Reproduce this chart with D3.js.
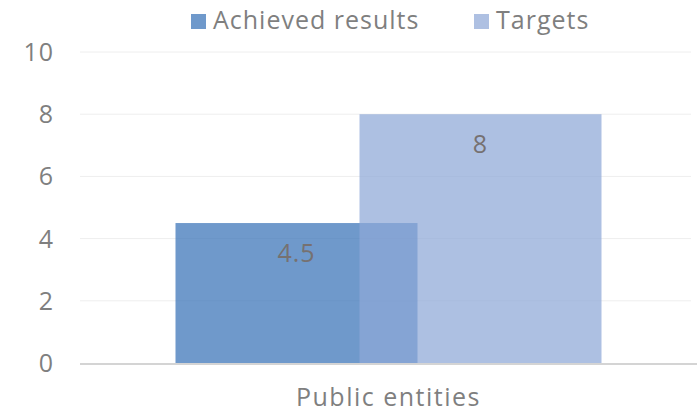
<!DOCTYPE html>
<html>
<head>
<meta charset="utf-8">
<script src="https://cdn.jsdelivr.net/npm/d3@7"></script>
<style>
  html, body { margin: 0; padding: 0; background: #fff; }
  svg { display: block; font-family: "Open Sans", sans-serif; }
</style>
</head>
<body>
<div id="chart"></div>
<script>
const categories = ["Public entities"];
const seriesNames = ["Achieved results", "Targets"];
const achieved = [4.5];
const targets = [8];
const yTicks = [0, 2, 4, 6, 8, 10];

(function() {
  const width = 697, height = 413;
  const margin = { top: 52, right: 0, bottom: 50, left: 80 };

  const svg = d3.select("#chart").append("svg")
    .attr("width", width).attr("height", height);

  const x = d3.scaleBand().domain(categories).range([margin.left, width - margin.right]);
  const y = d3.scaleLinear().domain([0, 10]).range([height - margin.bottom, margin.top]);

  // gridlines
  svg.append("g").selectAll("line")
    .data(yTicks.filter(d => d > 0))
    .join("line")
    .attr("x1", margin.left).attr("x2", width - 6)
    .attr("y1", d => y(d)).attr("y2", d => y(d))
    .attr("stroke", "#eeeeee").attr("stroke-width", 1);

  // y labels
  svg.append("g").selectAll("text")
    .data(yTicks)
    .join("text")
    .attr("x", 54).attr("y", d => y(d) + 9)
    .attr("text-anchor", "end")
    .attr("font-size", 25)
    .attr("letter-spacing", 1)
    .attr("fill", "#7f7f7f")
    .text(d => d);

  const barW = 242, overlap = 58;
  const series = [
    { name: seriesNames[0], values: achieved, fill: "#3f77b9", opacity: 0.75, off: -(barW - overlap / 2) },
    { name: seriesNames[1], values: targets, fill: "#8ea7d7", opacity: 0.72, off: -overlap / 2 }
  ];

  series.forEach(s => {
    svg.append("g").selectAll("rect")
      .data(categories)
      .join("rect")
      .attr("x", (c) => x(c) + x.bandwidth() / 2 + s.off)
      .attr("y", (c, i) => y(s.values[i]))
      .attr("width", barW)
      .attr("height", (c, i) => y(0) - y(s.values[i]))
      .attr("fill", s.fill)
      .attr("fill-opacity", s.opacity);
  });

  // baseline
  svg.append("line")
    .attr("x1", margin.left).attr("x2", width)
    .attr("y1", y(0) + 1).attr("y2", y(0) + 1)
    .attr("stroke", "#d4d4d4").attr("stroke-width", 2);

  // value labels
  series.forEach(s => {
    svg.append("g").selectAll("text")
      .data(categories)
      .join("text")
      .attr("x", c => x(c) + x.bandwidth() / 2 + s.off + barW / 2)
      .attr("y", (c, i) => y(s.values[i]) + 39)
      .attr("text-anchor", "middle")
      .attr("font-size", 25)
      .attr("letter-spacing", 1)
      .attr("fill", "#767171")
      .text((c, i) => s.values[i]);
  });

  // x labels
  svg.append("g").selectAll("text")
    .data(categories)
    .join("text")
    .attr("x", c => x(c) + x.bandwidth() / 2)
    .attr("y", 406)
    .attr("text-anchor", "middle")
    .attr("font-size", 25)
    .attr("letter-spacing", 1.5)
    .attr("fill", "#7f7f7f")
    .text(c => c);

  // legend
  const legendX = [191, 474];
  const legendFill = ["#6f99cb", "#aec0e2"];
  const lg = svg.append("g").selectAll("g")
    .data(seriesNames)
    .join("g")
    .attr("transform", (d, i) => `translate(${legendX[i]},0)`);
  lg.append("rect").attr("x", 0).attr("y", 14).attr("width", 15).attr("height", 15)
    .attr("fill", (d, i) => legendFill[i]);
  lg.append("text").attr("x", 22).attr("y", 29)
    .attr("font-size", 25).attr("letter-spacing", 1).attr("fill", "#7f7f7f")
    .text(d => d);
})();
</script>
</body>
</html>
